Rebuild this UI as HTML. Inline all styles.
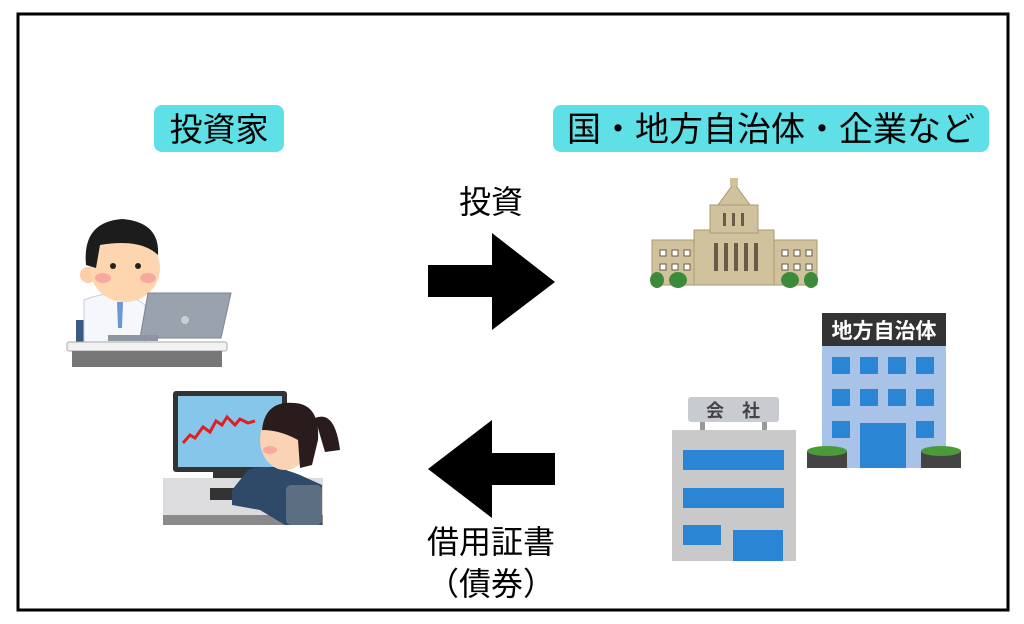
<!DOCTYPE html>
<html><head><meta charset="utf-8"><style>
body{margin:0;background:#fff;}
svg{display:block;font-family:"Liberation Sans","Noto Sans CJK JP",sans-serif;}
</style></head><body>
<svg width="1024" height="624" viewBox="0 0 1024 624">
<rect x="18" y="14" width="990" height="596" fill="#fff" stroke="#000" stroke-width="3"/>
<rect x="154" y="105" width="130" height="47" rx="8" fill="#5fe0e6"/>
<text x="219" y="141" font-size="33" text-anchor="middle">投資家</text>
<rect x="553" y="105" width="436" height="47" rx="8" fill="#5fe0e6"/>
<text x="771" y="141" font-size="34" text-anchor="middle">国・地方自治体・企業など</text>
<text x="491" y="213" font-size="32" text-anchor="middle">投資</text>
<polygon points="428,265 492,265 492,233 555,282 492,330 492,297 428,297" fill="#000"/>
<polygon points="555,453 492,453 492,420 428,469 492,518 492,485 555,485" fill="#000"/>
<text x="491" y="553" font-size="32" text-anchor="middle">借用証書</text>
<text x="491" y="595" font-size="32" text-anchor="middle">（債券）</text>

<!-- man -->
<rect x="76" y="320" width="10" height="22" fill="#3a5a85"/>
<path d="M84 300 Q120 285 145 305 L145 342 L84 342 Z" fill="#f5f7fa" stroke="#ccd" />
<polygon points="117,302 123,302 122,328 118,328" fill="#6a9ad6"/>
<circle cx="88" cy="275" r="8" fill="#fbcfa6"/>
<ellipse cx="125" cy="268" rx="35" ry="34" fill="#fdd5ae"/>
<path d="M86 265 Q82 222 122 219 Q160 222 158 255 Q140 238 100 245 L96 268 Z" fill="#1c1c1c"/>
<circle cx="113" cy="266" r="3" fill="#222"/><circle cx="138" cy="266" r="3" fill="#222"/>
<ellipse cx="103" cy="278" rx="8" ry="5" fill="#f7a9a0"/><ellipse cx="148" cy="278" rx="8" ry="5" fill="#f7a9a0"/>
<polygon points="148,293 231,293 221,338 140,338" fill="#9aa3ad" stroke="#7d8690"/>
<circle cx="185" cy="320" r="4" fill="#c9ced4"/>
<rect x="108" y="335" width="50" height="6" fill="#8d969f"/>
<rect x="67" y="342" width="160" height="9" rx="2" fill="#f2f2f2" stroke="#aaa"/>
<rect x="72" y="351" width="150" height="16" fill="#777"/>

<!-- woman -->
<rect x="173" y="391" width="114" height="81" rx="3" fill="#333"/>
<rect x="178" y="396" width="104" height="71" fill="#86c6ea"/>
<polyline points="183,443 190,435 195,438 203,427 210,432 216,421 222,425 227,417 235,425 240,419 248,423 255,421" fill="none" stroke="#e02020" stroke-width="3"/>
<rect x="213" y="472" width="34" height="8" fill="#333"/>
<rect x="163" y="478" width="160" height="40" fill="#dcdcde"/>
<rect x="163" y="515" width="160" height="10" fill="#8a8a8a"/>
<rect x="210" y="488" width="50" height="12" fill="#333"/>
<path d="M248 470 Q268 462 300 475 L322 485 L322 525 L285 525 L260 510 L232 505 L232 490 Z" fill="#2f4a68"/>
<rect x="286" y="485" width="36" height="40" rx="5" fill="#5c6e82"/>
<ellipse cx="285" cy="440" rx="25" ry="30" fill="#fad2b4"/>
<path d="M262 430 Q265 400 295 403 Q320 405 318 440 L312 465 L300 468 L298 440 Q280 430 262 430 Z" fill="#2a1c1c"/>
<path d="M315 418 Q335 410 340 450 L325 452 Z" fill="#2a1c1c"/>
<ellipse cx="270" cy="450" rx="7" ry="4" fill="#f7a9a0"/>

<!-- diet building -->
<g fill="#cfc29c" stroke="#a89a74">
<rect x="652" y="240" width="165" height="45"/>
<rect x="694" y="230" width="80" height="55"/>
<rect x="710" y="205" width="48" height="28"/>
<polygon points="718,205 750,205 734,183"/>
</g>
<rect x="730" y="178" width="8" height="8" fill="#cfc29c"/>
<g fill="#6b5a48">
<rect x="714" y="243" width="4" height="28"/><rect x="724" y="243" width="4" height="28"/><rect x="734" y="243" width="4" height="28"/><rect x="744" y="243" width="4" height="28"/><rect x="754" y="243" width="4" height="28"/>
<rect x="723" y="213" width="3" height="13"/><rect x="732" y="213" width="3" height="13"/><rect x="741" y="213" width="3" height="13"/>
</g>
<g fill="#fff" stroke="#6b5a48">
<rect x="660" y="250" width="6" height="6"/><rect x="672" y="250" width="6" height="6"/><rect x="684" y="250" width="6" height="6"/>
<rect x="660" y="264" width="6" height="6"/><rect x="672" y="264" width="6" height="6"/><rect x="684" y="264" width="6" height="6"/>
<rect x="782" y="250" width="6" height="6"/><rect x="794" y="250" width="6" height="6"/><rect x="806" y="250" width="6" height="6"/>
<rect x="782" y="264" width="6" height="6"/><rect x="794" y="264" width="6" height="6"/><rect x="806" y="264" width="6" height="6"/>
</g>
<g fill="#3d8a3a"><ellipse cx="657" cy="280" rx="7" ry="8"/><ellipse cx="678" cy="280" rx="9" ry="8"/><ellipse cx="790" cy="280" rx="9" ry="8"/><ellipse cx="811" cy="280" rx="7" ry="8"/></g>

<!-- 地方自治体 building -->
<rect x="822" y="313" width="124" height="33" fill="#333"/>
<text x="884" y="338" font-size="21" font-weight="bold" fill="#fff" text-anchor="middle">地方自治体</text>
<rect x="822" y="346" width="124" height="122" fill="#a9c2e8"/>
<g fill="#2a86d4">
<rect x="832" y="357" width="18" height="17"/><rect x="860" y="357" width="18" height="17"/><rect x="888" y="357" width="18" height="17"/><rect x="916" y="357" width="18" height="17"/>
<rect x="832" y="389" width="18" height="17"/><rect x="860" y="389" width="18" height="17"/><rect x="888" y="389" width="18" height="17"/><rect x="916" y="389" width="18" height="17"/>
<rect x="832" y="421" width="18" height="17"/><rect x="916" y="421" width="18" height="17"/>
<rect x="860" y="423" width="46" height="45"/>
</g>
<rect x="807" y="451" width="40" height="17" fill="#444"/><ellipse cx="827" cy="451" rx="20" ry="5" fill="#4a9a3a"/>
<rect x="921" y="451" width="40" height="17" fill="#444"/><ellipse cx="941" cy="451" rx="20" ry="5" fill="#4a9a3a"/>

<!-- 会社 building -->
<rect x="688" y="397" width="91" height="25" rx="3" fill="#c8cbd0"/>
<text x="733" y="417" font-size="18" font-weight="bold" fill="#444" text-anchor="middle">会　社</text>
<rect x="700" y="422" width="5" height="8" fill="#999"/><rect x="762" y="422" width="5" height="8" fill="#999"/>
<rect x="672" y="430" width="124" height="131" fill="#c9c9c9"/>
<g fill="#2a86d4">
<rect x="683" y="450" width="101" height="20"/>
<rect x="683" y="488" width="101" height="20"/>
<rect x="683" y="525" width="38" height="20"/>
<rect x="733" y="530" width="50" height="31"/>
</g>
</svg>
</body></html>
